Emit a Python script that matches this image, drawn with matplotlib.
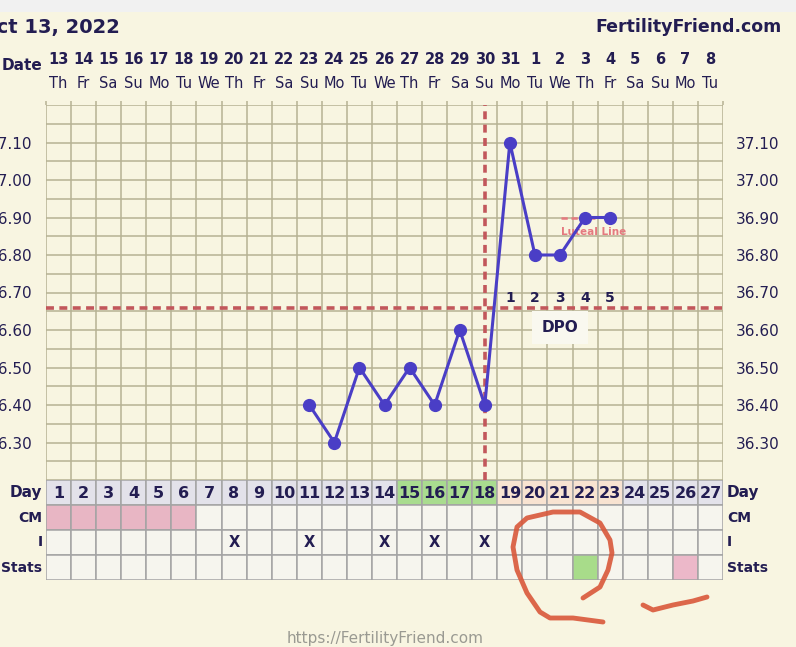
import numpy as np
import matplotlib
matplotlib.use("Agg")
from matplotlib import pyplot as plt
from matplotlib import transforms

# chart data
days = list(range(1, 28))
dates = [13, 14, 15, 16, 17, 18, 19, 20, 21, 22, 23, 24, 25, 26, 27, 28, 29, 30, 31,
         1, 2, 3, 4, 5, 6, 7, 8]
weekdays = (['Th', 'Fr', 'Sa', 'Su', 'Mo', 'Tu', 'We'] * 4)[:27]
temp_days = [11, 12, 13, 14, 15, 16, 17, 18, 19, 20, 21, 22, 23]
temps = [36.40, 36.30, 36.50, 36.40, 36.50, 36.40, 36.60, 36.40, 37.10, 36.80, 36.80, 36.90, 36.90]
coverline = 36.66
ovulation_day = 18
dpo_days = [19, 20, 21, 22, 23]
dpo_labels = ['1', '2', '3', '4', '5']
period_days = [1, 2, 3, 4, 5, 6]
fertile_days = [15, 16, 17, 18]
luteal_days = [19, 20, 21, 22, 23]
intercourse_days = [8, 11, 14, 16, 18]
stats_green = [22]
stats_pink = [26]
yticks = [36.30, 36.40, 36.50, 36.60, 36.70, 36.80, 36.90, 37.00, 37.10]
row_labels = ['Day', 'CM', 'I', 'Stats']

# hand drawn red marks (pixel positions on the screenshot)
scribble1 = [(583, 598), (600, 587), (608, 570), (612, 553), (610, 540), (600, 523), (580, 512),
             (553, 512), (527, 518), (517, 527), (513, 547), (517, 570), (527, 593), (540, 612),
             (550, 618), (573, 618), (603, 622)]
scribble2 = [(643, 605), (653, 610), (673, 605), (693, 601), (707, 597)]

bg = '#f8f5e1'
navy = '#231d52'
gridc = '#b6b294'
redc = '#c2575b'
linec = '#4a3ec6'
pinkc = '#e5797f'

W, H = 796, 647
fig = plt.figure(figsize=(W / 100, H / 100), dpi=100, facecolor=bg)

def fx(px):
    return px / W

def fy(py):
    return 1 - py / H

L, R = 46, 723
ax = fig.add_axes([fx(L), fy(480), fx(R - L), fy(105) - fy(480)])
ax.set_facecolor(bg)
ax.set_xlim(0.5, 27.5)
ax.set_ylim(36.20, 37.20)
for x in np.arange(0.5, 28, 1):
    ax.axvline(x, color=gridc, lw=1.1, zorder=1)
for y in np.arange(36.20, 37.21, 0.05):
    ax.axhline(y, color=gridc, lw=1.1, zorder=1)
for s in ax.spines.values():
    s.set_visible(False)
ax.set_xticks(np.arange(0.5, 28, 1))
ax.tick_params(axis='x', bottom=False, labelbottom=False, top=True, labeltop=False,
               direction='out', length=3, width=1.1, color=gridc)
ax.set_yticks(yticks)
ax.set_yticklabels(['%.2f' % v for v in yticks])
ax.tick_params(axis='y', left=False, right=False, labelleft=True, labelright=True,
               labelsize=11, labelcolor=navy, pad=6)

ax.axhline(coverline, color=redc, lw=2.6, ls=(0, (2.2, 1.5)), zorder=2)
ax.axvline(ovulation_day, color=redc, lw=2.6, ls=(0, (2.2, 1.5)), zorder=2)

ax.plot(temp_days, temps, color=linec, lw=2.2, marker='o', ms=8.5, zorder=4)

for d, lab in zip(dpo_days, dpo_labels):
    ax.text(d, coverline + 0.008, lab, ha='center', va='bottom', fontsize=10,
            fontweight='bold', color=navy, zorder=5)
ax.text(21, 36.606, 'DPO', ha='center', va='center', fontsize=11, fontweight='bold',
        color=navy, zorder=5,
        bbox=dict(boxstyle='square,pad=0.6', facecolor='#f9f8ef', edgecolor='none'))

ax.plot([21.05, 22.4], [36.90, 36.90], color=pinkc, lw=1.8, ls=(0, (2.5, 1.5)), zorder=3)
ax.text(21.05, 36.862, 'Luteal Line', ha='left', va='center', fontsize=7.5,
        fontweight='bold', color=pinkc, zorder=3)

# table below
tb = fig.add_axes([fx(L), fy(580), fx(R - L), fy(480) - fy(580)])
tb.set_xlim(0.5, 27.5)
tb.set_ylim(4, 0)
tb.axis('off')
cell = '#f6f5ee'
edge = '#a4a4a4'
day_colors = []
for d in days:
    if d in fertile_days:
        day_colors.append('#a9dc8f')
    elif d in luteal_days:
        day_colors.append('#f8e3d1')
    else:
        day_colors.append('#e3e2ea')
cm_colors = ['#e8b6c4' if d in period_days else cell for d in days]
i_colors = [cell for d in days]
stats_colors = []
for d in days:
    if d in stats_green:
        stats_colors.append('#a8dc8a')
    elif d in stats_pink:
        stats_colors.append('#ecb8c9')
    else:
        stats_colors.append(cell)
for r, cols in enumerate([day_colors, cm_colors, i_colors, stats_colors]):
    tb.bar(days, 1, bottom=r, width=1, color=cols, edgecolor=edge, linewidth=1.1, align='center')
for d in days:
    tb.text(d, 0.55, str(d), ha='center', va='center', fontsize=11.5, fontweight='bold', color=navy)
for d in intercourse_days:
    tb.text(d, 2.5, 'X', ha='center', va='center', fontsize=10.5, fontweight='bold', color=navy)
for r, lab in enumerate(row_labels):
    fs = 11 if lab == 'Day' else 10
    tb.text(0.36, r + 0.5, lab, ha='right', va='center', fontsize=fs, fontweight='bold', color=navy)
    tb.text(27.66, r + 0.5, lab, ha='left', va='center', fontsize=fs, fontweight='bold', color=navy)

# header date labels
hdr = transforms.blended_transform_factory(ax.transData, fig.transFigure)
for d, dt, wd in zip(days, dates, weekdays):
    ax.text(d, fy(60), str(dt), transform=hdr, ha='center', va='center',
            fontsize=10.5, fontweight='bold', color=navy)
    ax.text(d, fy(84), wd, transform=hdr, ha='center', va='center',
            fontsize=10.5, color=navy)

fig.text(fx(42), fy(65), 'Date', ha='right', va='center', fontsize=11, fontweight='bold', color=navy)
fig.text(fx(-20), fy(27), 'Oct 13, 2022', ha='left', va='center', fontsize=14, fontweight='bold', color=navy)
fig.text(fx(782), fy(27), 'FertilityFriend.com', ha='right', va='center', fontsize=12.5,
         fontweight='bold', color=navy)
fig.text(fx(385), fy(638), 'https://FertilityFriend.com', ha='center', va='center',
         fontsize=11, color='#9a9a92')

# grey strip at the very top of the screenshot
fig.patches.append(plt.Rectangle((0, fy(12)), 1, 1 - fy(12), transform=fig.transFigure,
                                 facecolor='#f1f1f1', edgecolor='none', zorder=0))

ov = fig.add_axes([0, 0, 1, 1], zorder=10)
ov.set_xlim(0, W)
ov.set_ylim(H, 0)
ov.axis('off')
ov.patch.set_alpha(0)
for stroke in [scribble1, scribble2]:
    xs = [p[0] for p in stroke]
    ys = [p[1] for p in stroke]
    ov.plot(xs, ys, color='#d9583a', lw=3.5, alpha=0.9, solid_capstyle='round',
            solid_joinstyle='round')

fig.savefig('out.png', dpi=100, facecolor=bg)
